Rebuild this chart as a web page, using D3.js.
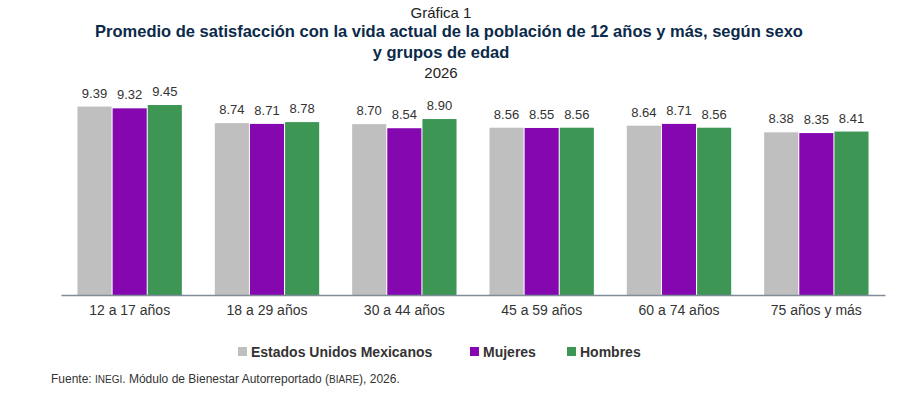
<!DOCTYPE html>
<html><head><meta charset="utf-8">
<script src="https://cdn.jsdelivr.net/npm/d3@7"></script>
<style>body{margin:0;background:#fff;font-family:Arial,"Liberation Sans",sans-serif}</style>
</head><body><svg id="c" width="922" height="403"></svg>
<script>
const categories=["12 a 17 años","18 a 29 años","30 a 44 años","45 a 59 años","60 a 74 años","75 años y más"];
const seriesNames=["Estados Unidos Mexicanos","Mujeres","Hombres"];
const nacional=[9.39,8.74,8.70,8.56,8.64,8.38];
const mujeres=[9.32,8.71,8.54,8.55,8.71,8.35];
const hombres=[9.45,8.78,8.90,8.56,8.56,8.41];
const colors=["#bfbfbf","#8507b0","#3d9654"];
const series=[nacional,mujeres,hombres];

const svg=d3.select("#c");
const x=d3.scaleBand().domain(categories).range([61,885]).paddingInner(0.24).paddingOuter(0.12);
const xs=d3.scaleBand().domain(d3.range(3)).range([0,x.bandwidth()]).paddingInner(0.03);
const y=d3.scaleLinear().domain([2,10]).range([295,91]);

const txt=(t,xx,yy,size,weight,fill,anchor)=>svg.append("text").attr("x",xx).attr("y",yy).attr("font-size",size).attr("font-weight",weight||"normal").attr("fill",fill||"#000").attr("text-anchor",anchor||"middle").text(t);
txt("Gráfica 1",441,18,15,"normal","#222");
txt("Promedio de satisfacción con la vida actual de la población de 12 años y más, según sexo",449,37,16.5,"bold","#0b2a4a");
txt("y grupos de edad",441,58,16.5,"bold","#0b2a4a");
txt("2026",441,78,15,"normal","#222");

series.forEach((vals,si)=>{
  svg.append("g").selectAll("rect").data(vals).join("rect")
    .attr("x",(d,i)=>x(categories[i])+xs(si)).attr("width",xs.bandwidth())
    .attr("y",d=>y(d)).attr("height",d=>y(2)-y(d)).attr("fill",colors[si]);
  svg.append("g").selectAll("text").data(vals).join("text")
    .attr("x",(d,i)=>x(categories[i])+xs(si)+xs.bandwidth()/2).attr("y",d=>y(d)-9)
    .attr("text-anchor","middle").attr("font-size",13).attr("fill","#333").text(d=>d.toFixed(2));
});
const ax=svg.append("g").attr("transform","translate(0,295)").call(d3.axisBottom(x).tickSize(0).tickPadding(10));
ax.select(".domain").attr("stroke","#7f8c99").attr("stroke-width",1.5);
ax.selectAll("text").attr("font-size",14).attr("fill","#333").attr("font-family","Arial,'Liberation Sans',sans-serif");

const leg=[{x:238,n:0},{x:470,n:1},{x:567,n:2}];
leg.forEach(l=>{
  svg.append("rect").attr("x",l.x).attr("y",347).attr("width",9).attr("height",9).attr("fill",colors[l.n]);
  txt(seriesNames[l.n],l.x+13,357,14,"bold","#333","start");
});
const f=svg.append("text").attr("x",51).attr("y",383).attr("font-size",12).attr("fill","#333");
f.append("tspan").text("Fuente: ");
f.append("tspan").attr("font-size",10).text("INEGI");
f.append("tspan").text(". Módulo de Bienestar Autorreportado (");
f.append("tspan").attr("font-size",10).text("BIARE");
f.append("tspan").text("), 2026.");
</script></body></html>
